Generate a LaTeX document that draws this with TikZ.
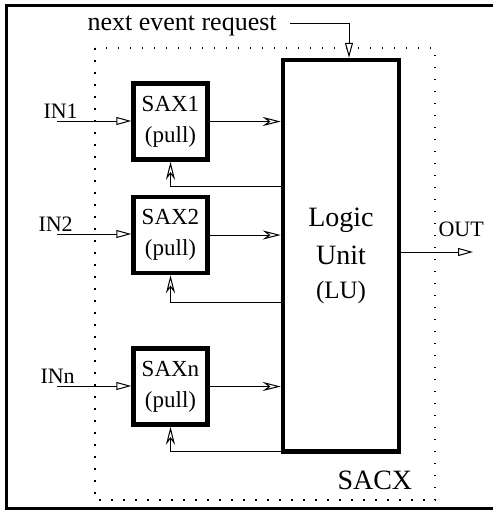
\documentclass[tikz,border=0pt]{standalone}
\usepackage{fontspec}
\setmainfont{Liberation Serif}
\usetikzlibrary{arrows.meta}

\begin{document}
\begin{tikzpicture}[x=1pt, y=-1pt, line width=1pt,
  sax/.style={draw, line width=4.5pt, minimum width=74pt, minimum height=76pt,
              inner sep=0pt, align=center, font=\fontsize{23}{31}\selectfont},
  inarrow/.style={-{Triangle[open, length=15pt, width=8pt]}},
  fbarrow/.style={-{Stealth[open, length=18pt, width=9pt, inset=6pt]}},
  lbl/.style={inner sep=0pt, font=\fontsize{22}{26}\selectfont}]

  \useasboundingbox (0,0) rectangle (493,512);
  \clip (0,0) rectangle (493,512);

  % Outer frame (cut off at the right)
  \draw[line width=3pt] (6.5,5.5) rectangle (560,508.5);

  % SACX boundary
  \draw[line width=1.5pt, dash pattern=on 1.5pt off 10.5pt] (95,48) rectangle (435,500);
  \node[lbl, font=\fontsize{28}{30}\selectfont, anchor=base west] (sacx) at (337,489) {SACX};

  % Blocks
  \node[sax] (sax1) at (170.5,121.5) {SAX1\\(pull)};
  \node[sax] (sax2) at (170.5,235) {SAX2\\(pull)};
  \node[sax] (saxn) at (170.5,386.5) {SAXn\\(pull)};

  \node[draw, line width=4.5pt, minimum width=116pt, minimum height=391.5pt,
        inner sep=0pt, align=center, font=\fontsize{28}{38}\selectfont]
        (lu) at (341,255.75) {Logic\\Unit\\[-4pt]{\fontsize{25}{30}\selectfont(LU)}};

  % Inputs
  \coordinate (src1) at (57,121);
  \coordinate (src2) at (57,234);
  \coordinate (srcn) at (57,386);
  \node[lbl, anchor=base west] (in1) at (43,118) {IN1};
  \node[lbl, anchor=base west] (in2) at (38,231) {IN2};
  \node[lbl, anchor=base west] (inn) at (40,383) {INn};
  \draw[inarrow] (src1) -- (src1 -| sax1.west);
  \draw[inarrow] (src2) -- (src2 -| sax2.west);
  \draw[inarrow] (srcn) -- (srcn -| saxn.west);

  % SAX to LU
  \draw[fbarrow] (sax1.east) -- (sax1.east -| lu.west);
  \draw[fbarrow] (sax2.east) -- (sax2.east -| lu.west);
  \draw[fbarrow] (saxn.east) -- (saxn.east -| lu.west);

  % Feedback from LU
  \coordinate (fb1) at (283,186);
  \coordinate (fb2) at (283,302);
  \coordinate (fbn) at (283,451.5);
  \draw[fbarrow] (fb1) -| (sax1);
  \draw[fbarrow] (fb2) -| (sax2);
  \draw[fbarrow] (fbn) -| (saxn);

  % Next event request
  \node[lbl, font=\fontsize{26}{28}\selectfont, anchor=base west] (req) at (87,30) {next event request};
  \coordinate (reqstart) at (290,23);
  \draw[inarrow] (reqstart) -| ([xshift=8pt]lu.north);

  % Output
  \coordinate (out) at (473,252);
  \node[lbl, anchor=base west] (outlbl) at (438,236) {OUT};
  \draw[inarrow] (out -| lu.east) -- (out);

\end{tikzpicture}
\end{document}
